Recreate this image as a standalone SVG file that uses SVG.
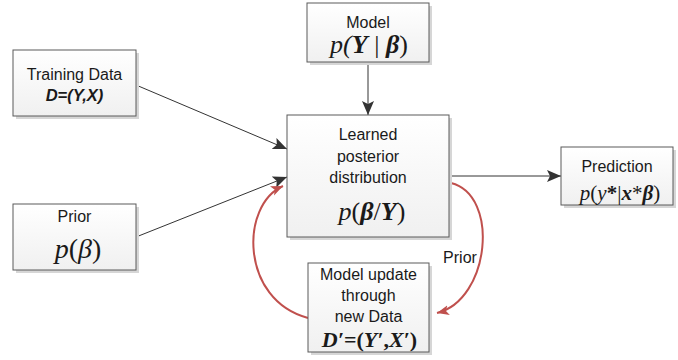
<svg xmlns="http://www.w3.org/2000/svg" width="678" height="360" viewBox="0 0 678 360">
<style>
.box{fill:url(#g);stroke:#5a5a5a;stroke-width:1}
.sh{fill:#d6d6d6}
.t{font-family:"Liberation Sans",Arial,sans-serif;font-size:16px;fill:#1a1a1a;text-anchor:middle}
.m{font-family:"Liberation Serif","Times New Roman",serif;fill:#1a1a1a;text-anchor:middle;font-style:italic}
.b{font-weight:bold}
.n{font-style:normal}
.ln{stroke:#333;stroke-width:1;fill:none}
.rd{stroke:#c0504d;stroke-width:2;fill:none}
</style>
<defs>
<linearGradient id="g" x1="0" y1="0" x2="0" y2="1">
<stop offset="0" stop-color="#ffffff"/>
<stop offset="1" stop-color="#f0f0f0"/>
</linearGradient>
<marker id="ab" markerUnits="userSpaceOnUse" markerWidth="16" markerHeight="12" refX="14" refY="6" orient="auto">
<path d="M0,0 L14,6 L0,12 L3,6 Z" fill="#333"/>
</marker>
<marker id="ar" markerUnits="userSpaceOnUse" markerWidth="14" markerHeight="12" refX="12" refY="6" orient="auto">
<path d="M0,1 L12,6 L0,11 L3,6 Z" fill="#c0504d"/>
</marker>
</defs>
<g id="connectors">
<line class="ln" x1="136" y1="85" x2="287" y2="149" marker-end="url(#ab)"/>
<line class="ln" x1="136" y1="237" x2="287" y2="177" marker-end="url(#ab)"/>
<line class="ln" x1="368" y1="62" x2="368" y2="115" marker-end="url(#ab)"/>
<line class="ln" x1="449" y1="176" x2="561" y2="176" marker-end="url(#ab)"/>
<path class="rd" d="M451,183 C500,195 490,300 437,313" marker-end="url(#ar)"/>
<path class="rd" d="M308,318 C240,300 240,205 283,186" marker-end="url(#ar)"/>
<text class="t" x="460" y="263">Prior</text>
</g>
<g id="training">
<rect class="sh" x="16" y="53" width="123" height="66"/>
<rect class="box" x="13" y="50" width="123" height="66"/>
<text class="t" x="74.500" y="80">Training Data</text>
<text class="t b" x="74.500" y="101" font-style="italic" style="font-size:16.500px">D=(Y,X)</text>
</g>
<g id="model">
<rect class="sh" x="310" y="6" width="122" height="59"/>
<rect class="box" x="307" y="3" width="122" height="59"/>
<text class="t" x="368" y="28">Model</text>
<text class="m" x="369" y="53" font-size="26">p(<tspan class="b">Y</tspan><tspan class="n"> | </tspan><tspan class="b">β</tspan><tspan class="n">)</tspan></text>
</g>
<g id="learned">
<rect class="sh" x="290" y="118" width="162" height="122"/>
<rect class="box" x="287" y="115" width="162" height="122"/>
<text class="t" x="368" y="140">Learned</text>
<text class="t" x="368" y="162">posterior</text>
<text class="t" x="368" y="183">distribution</text>
<text class="m" x="372" y="220" font-size="26">p<tspan class="n">(</tspan><tspan class="b">β</tspan><tspan class="n">/</tspan><tspan class="b">Y</tspan><tspan class="n">)</tspan></text>
</g>
<g id="prediction">
<rect class="sh" x="564" y="150" width="112" height="58"/>
<rect class="box" x="561" y="147" width="112" height="58"/>
<text class="t" x="617" y="172">Prediction</text>
<text class="m" x="620" y="200" font-size="21">p<tspan class="n">(</tspan>y<tspan class="b n">*</tspan><tspan class="n">|</tspan><tspan class="b">x</tspan><tspan class="n">*</tspan><tspan class="b">β</tspan><tspan class="n">)</tspan></text>
</g>
<g id="prior">
<rect class="sh" x="16" y="207" width="123" height="66"/>
<rect class="box" x="13" y="204" width="123" height="66"/>
<text class="t" x="74.500" y="222">Prior</text>
<text class="m" x="78" y="258" font-size="28">p<tspan class="n">(</tspan>β<tspan class="n">)</tspan></text>
</g>
<g id="update">
<rect class="sh" x="311" y="266" width="121" height="89"/>
<rect class="box" x="308" y="263" width="121" height="89"/>
<text class="t" x="368.500" y="280">Model update</text>
<text class="t" x="368.500" y="301">through</text>
<text class="t" x="368.500" y="322">new Data</text>
<text class="m b" x="369.500" y="347" font-size="22">D′<tspan class="n">=(</tspan>Y′<tspan class="n">,</tspan>X′<tspan class="n">)</tspan></text>
</g>
</svg>
